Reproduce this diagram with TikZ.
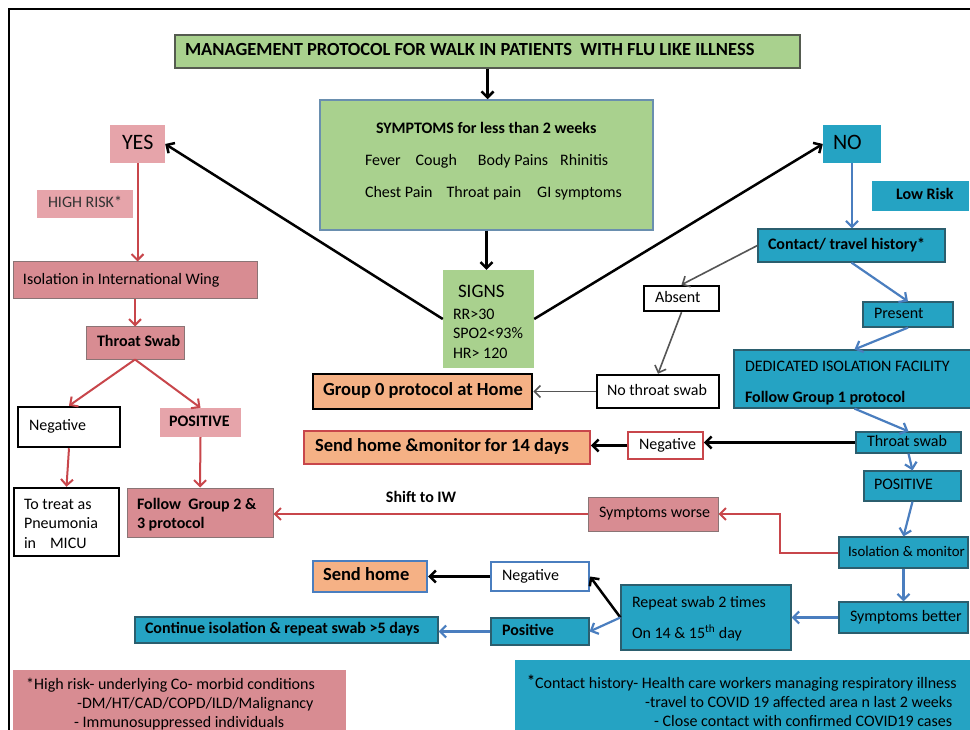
\documentclass[tikz,border=0pt]{standalone}
\usepackage{fontspec}
\setmainfont{Carlito}
\usetikzlibrary{arrows.meta}
\definecolor{cGrn}{HTML}{A9D18E}
\definecolor{cGB}{HTML}{555B50}
\definecolor{cSB}{HTML}{6A8FAF}
\definecolor{cPinkL}{HTML}{E6A4AA}
\definecolor{cPinkD}{HTML}{D88C92}
\definecolor{cPinkB}{HTML}{8A7475}
\definecolor{cTeal}{HTML}{25A3C3}
\definecolor{cTealB}{HTML}{2B5E6E}
\definecolor{cOrng}{HTML}{F5B185}
\definecolor{cRed}{HTML}{C8464B}
\definecolor{cBlue}{HTML}{4A7EBF}
\definecolor{cGray}{HTML}{555555}
\def\myRaise{0}
% box with left aligned text: name, style, x1, y1, x2, y2, left pad, text
\newcommand\boxl[8]{%
  \pgfmathsetmacro\myBW{#5-#3}\pgfmathsetmacro\myBH{#6-#4}%
  \pgfmathsetmacro\myCX{(#3+#5)/2}\pgfmathsetmacro\myCY{(#4+#6)/2}%
  \pgfmathsetmacro\myTW{#5-#3-2*#7}%
  \def\myRaise{0}%
  \node[bxs,#2,minimum width=\myBW pt,minimum height=\myBH pt] (#1) at (\myCX,\myCY)
    {\raisebox{\myRaise pt}[\height][\depth]{\makebox[\myTW pt][l]{\begin{tabular}{@{}l@{}}#8\end{tabular}}}};}
\begin{document}
\begin{tikzpicture}[x=1pt,y=-1pt,
  bxs/.style={rectangle,inner sep=0pt,align=center,font=\fontsize{16}{19.5}\selectfont},
  rz/.code={\def\myRaise{#1}},
  sGreen/.style={fill=cGrn,draw=cGB,line width=1.5pt},
  sSymp/.style={fill=cGrn,draw=cSB,line width=1.5pt},
  sSigns/.style={fill=cGrn},
  sPinkL/.style={fill=cPinkL},
  sPinkD/.style={fill=cPinkD,draw=cPinkB,line width=1pt},
  sTeal/.style={fill=cTeal,draw=cTealB,line width=1.2pt},
  sTealN/.style={fill=cTeal},
  sWhiteK/.style={fill=white,draw=black,line width=2.5pt},
  sOrngK/.style={fill=cOrng,draw=black,line width=2.5pt},
  sOrngR/.style={fill=cOrng,draw=cRed,line width=1.5pt},
  sOrngB/.style={fill=cOrng,draw=cBlue,line width=2pt},
  sWhiteR/.style={fill=white,draw=cRed,line width=1.5pt},
  sWhiteB/.style={fill=white,draw=cBlue,line width=2pt},
  big/.style={font=\fontsize{18.5}{22}\selectfont\bfseries},
  bf/.style={font=\fontsize{16}{19.5}\selectfont\bfseries},
  huge/.style={font=\fontsize{22}{26}\selectfont},
  arK/.style={draw=black,line width=2.5pt,-{Straight Barb[length=6pt,width=12pt]}},
  arR/.style={draw=cRed,line width=2pt,-{Straight Barb[length=6pt,width=12pt]}},
  arBl/.style={draw=cBlue,line width=2.2pt,-{Straight Barb[length=6pt,width=12pt]}},
  arG/.style={draw=cGray,line width=1.6pt,-{Straight Barb[length=6pt,width=12pt]}},
  lbl/.style={font=\fontsize{16}{19.5}\selectfont\bfseries,inner sep=0pt}
]
\fill[white] (0,0) rectangle (970,730);
\clip (0,0) rectangle (970,730);
\draw[line width=1.5pt] (9,735) -- (9,9) -- (975,9);

% top / centre
\boxl{title}{sGreen,big}{175}{35}{800}{68}{10}{MANAGEMENT PROTOCOL FOR WALK IN PATIENTS\ \ WITH FLU LIKE ILLNESS}
\boxl{symp}{sSymp,rz=3.5}{320}{100}{653}{230}{45}{\hspace{11pt}\textbf{SYMPTOMS for less than 2 weeks}\\[12.5pt]Fever\hspace{15pt}Cough\hspace{21pt}Body Pains\hspace{12pt}Rhinitis\\[12.5pt]Chest Pain\hspace{14pt}Throat pain\hspace{16pt}GI symptoms}
\boxl{signs}{sSigns,rz=-5}{443}{270}{534}{368}{10}{\hspace{5pt}{\fontsize{19}{22}\selectfont SIGNS}\\[2pt]RR>30\\SPO2<93\%\\HR> 120}
\boxl{yes}{sPinkL,huge}{110}{125}{165}{163}{12}{YES}
\boxl{no}{sTealN,huge}{823}{125}{881}{163}{10}{NO}

% left branch
\boxl{highrisk}{sPinkL,text=black!80}{37}{190}{133}{218}{11}{HIGH RISK*}
\boxl{isoIW}{sPinkD}{13}{262}{257}{299}{10}{Isolation in International Wing}
\boxl{tsL}{sPinkD,bf}{86}{327}{184}{359}{11}{Throat Swab}
\boxl{negL}{sWhiteK}{18}{407}{120}{447}{11}{Negative}
\boxl{posL}{sPinkL,bf}{160}{408}{241}{437}{9}{POSITIVE}
\boxl{treat}{sWhiteK,rz=-3}{14}{488}{119}{556}{10}{To treat as\\Pneumonia\\in\hspace{14pt}MICU}
\boxl{follow}{sPinkD,rz=-3,font=\fontsize{16}{18.5}\selectfont\bfseries}{127}{488}{273}{537}{10}{Follow\ \ Group 2 \&\\3 protocol}

% centre outcomes
\boxl{group0}{sOrngK,big}{313}{374}{532}{409}{10}{Group 0 protocol at Home}
\boxl{sendmon}{sOrngR,big}{304}{431}{590}{464}{11}{Send home \&monitor for 14 days}
\boxl{worse}{sPinkD}{588}{497}{718}{531}{11}{Symptoms worse}
\boxl{sendhome}{sOrngB,big}{313}{561}{427}{592}{10}{Send home}
\boxl{cont}{sTeal,bf}{135}{617}{438}{643}{10}{Continue isolation \& repeat swab >5 days}
\boxl{negB}{sWhiteB}{491}{562}{589}{591}{11}{Negative}
\boxl{posB}{sTeal,bf}{491}{618}{589}{645}{11}{Positive}
\boxl{repeat}{sTeal,rz=-1.5}{621}{585}{791}{650}{11}{Repeat swab 2 times\\[11.5pt]On 14 \& 15\textsuperscript{th} day}

% right branch
\boxl{lowrisk}{sTealN,bf}{872}{181}{969}{211}{24}{Low Risk}
\boxl{contact}{sTeal,bf}{758}{229}{945}{262}{10}{Contact/ travel history*}
\boxl{absent}{sWhiteK}{644}{286}{719}{311}{11}{Absent}
\boxl{nots}{sWhiteK}{597}{375}{719}{408}{10}{No throat swab}
\boxl{present}{sTeal}{863}{302}{953}{327}{11}{Present}
\boxl{ded}{sTeal,rz=-4}{734}{350}{975}{408}{11}{DEDICATED ISOLATION FACILITY\\[12pt]\textbf{Follow Group 1 protocol}}
\boxl{tsR}{sTeal}{856}{432}{961}{453}{11}{Throat swab}
\boxl{negR}{sWhiteR}{628}{432}{703}{459}{11}{Negative}
\boxl{posR}{sTeal}{864}{471}{961}{501}{10}{POSITIVE}
\boxl{isomon}{sTeal,font=\fontsize{14.8}{18}\selectfont}{839}{537}{968}{568}{9}{Isolation \& monitor}
\boxl{better}{sTeal}{839}{602}{968}{633}{11}{Symptoms better}

% footnotes
\node[bxs,fill=cPinkD,anchor=north west,minimum width=333pt,inner xsep=13pt,inner ysep=6pt,font=\fontsize{16}{19}\selectfont] (footL) at (13,670)
  {\makebox[307pt][l]{\begin{tabular}{@{}l@{}}*High risk- underlying Co- morbid conditions\\\hspace{51pt}-DM/HT/CAD/COPD/ILD/Malignancy\\\hspace{48pt}- Immunosuppressed individuals\end{tabular}}};
\node[bxs,fill=cTeal,anchor=north west,minimum width=460pt,inner xsep=12pt,inner ysep=15pt,font=\fontsize{16}{19}\selectfont] (footR) at (515,660)
  {\makebox[436pt][l]{\begin{tabular}{@{}l@{}}\raisebox{2pt}{\textbf{*}}Contact history- Health care workers managing respiratory illness\\\hspace{118pt}-travel to COVID 19 affected area n last 2 weeks\\\hspace{127pt}- Close contact with confirmed COVID19 cases\end{tabular}}};

% connectors
\draw[arK] (title.south) -- (symp.north -| title.south);
\draw[arK] (symp.south) -- (signs.north -| symp.south);
\draw[arK] (signs.west) -- (yes.east);
\draw[arK] (signs.east) -- (no.west);

\draw[arR] (yes.south) -- (isoIW.north -| yes.south);
\draw[arR] (isoIW.south -| tsL.north) -- (tsL.north);
\draw[arR] (tsL.south) -- (negL.north);
\draw[arR] (tsL.south) -- (posL.north);
\draw[arR] (negL.south) -- (treat.north);
\draw[arR] (posL.south) -- (follow.north);
\draw[arR] (worse.west) -- node[lbl,pos=0.53,above=10pt] (shift) {Shift to IW} (worse.west -| follow.east);
\coordinate (bendR) at (780,552.5);
\draw[arR] (isomon.west) -- (bendR) |- (worse.east);

\draw[arBl] (no.south) -- (contact.north -| no.south);
\draw[arG] (contact.west) -- (absent.north);
\draw[arG] (absent.south) -- (nots.north);
\draw[arG] (nots.west) -- (group0.east);
\draw[arBl] (contact.south) -- (present.north);
\draw[arBl] (present.south) -- (ded.north);
\draw[arBl] (ded.south) -- (tsR.north);
\draw[arK] (tsR.west) -- (negR.east |- tsR.west);
\draw[arK] (negR.west) -- (sendmon.east |- negR.west);
\draw[arBl] (tsR.south) -- (posR.north);
\draw[arBl] (posR.south) -- (isomon.north);
\draw[arBl] (isomon.south) -- (better.north -| isomon.south);
\draw[arBl] (better.west) -- (repeat.east |- better.west);
\draw[arK] (repeat.west) -- (negB.east);
\draw[arBl] (repeat.west) -- (posB.east);
\draw[arK] (negB.west) -- (sendhome.east |- negB.west);
\draw[arBl] (posB.west) -- (cont.east |- posB.west);
\end{tikzpicture}
\end{document}
